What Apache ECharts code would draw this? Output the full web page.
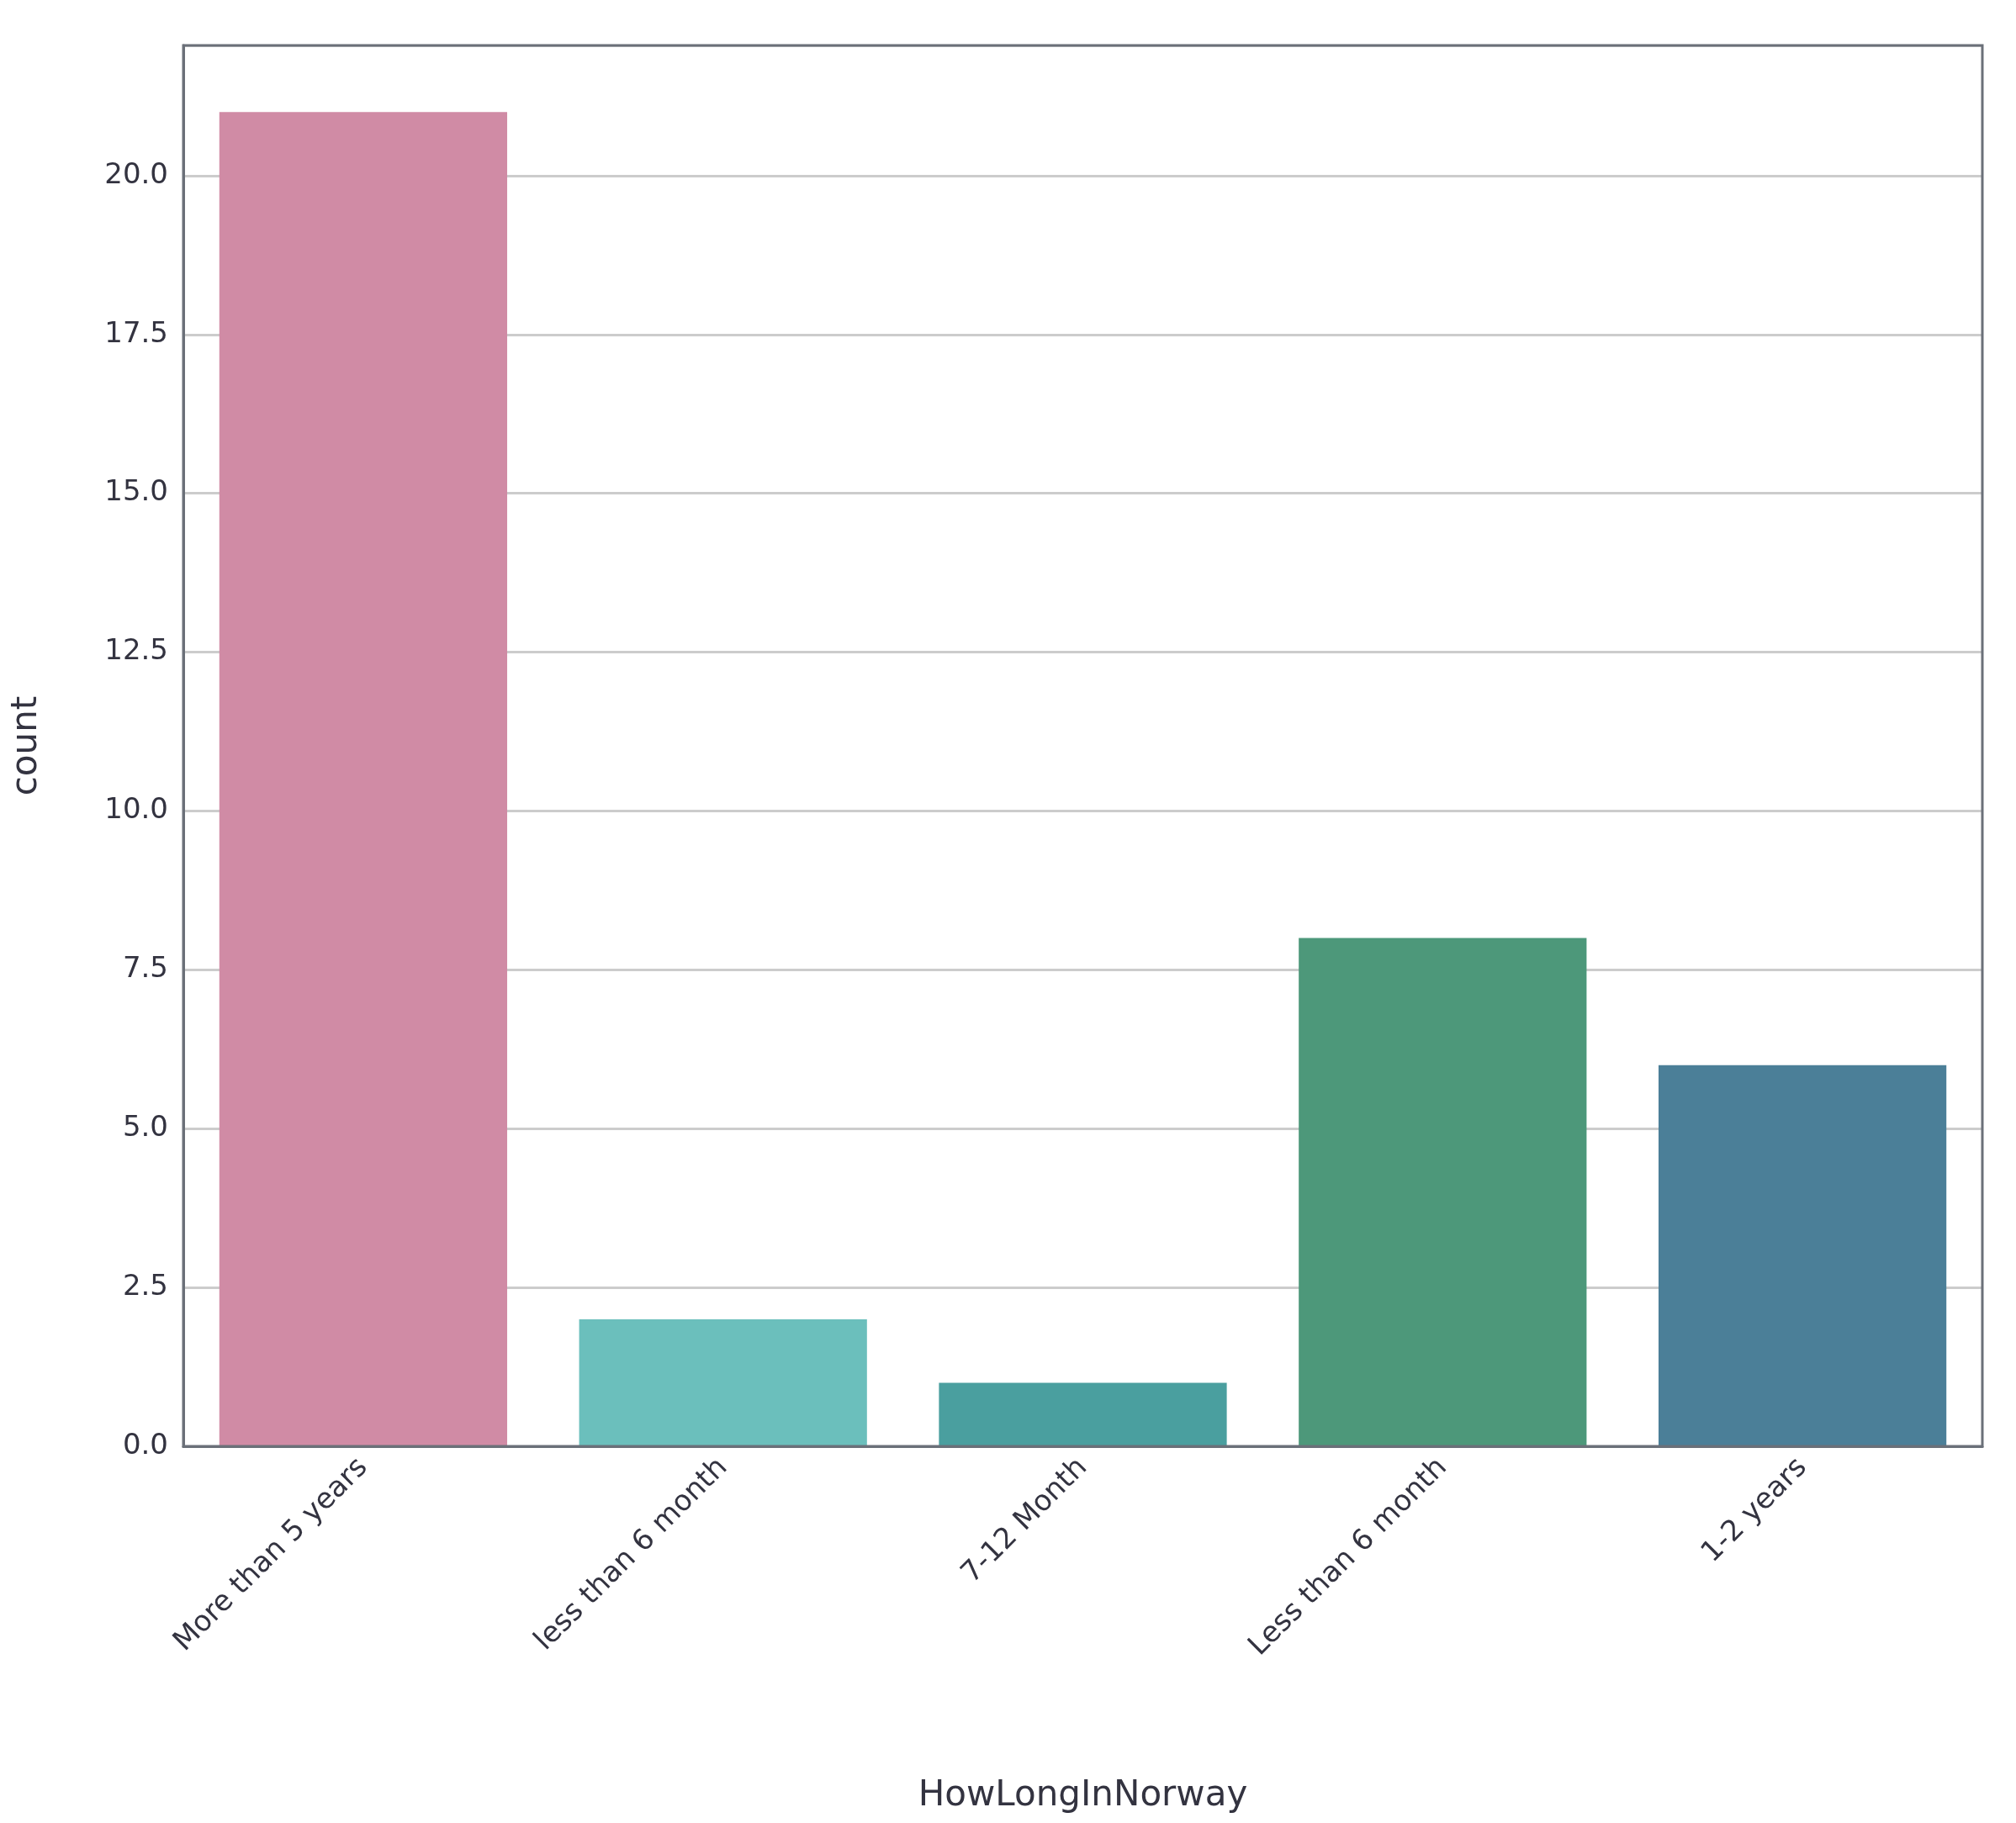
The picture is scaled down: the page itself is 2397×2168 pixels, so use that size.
<!DOCTYPE html>
<html>
<head>
<meta charset="utf-8">
<script src="https://cdn.jsdelivr.net/npm/echarts@6/dist/echarts.min.js"></script>
<style>html,body{margin:0;padding:0;background:#fff}#c{width:2397px;height:2168px}</style>
</head>
<body>
<div id="c"></div>
<script>
// 数据
const categories = ['More than 5 years', 'less than 6 month', '7-12 Month', 'Less than 6 month', '1-2 years']
const counts = [21, 2, 1, 8, 6]
const barColors = ['#D08BA5', '#6BBFBC', '#4A9F9F', '#4D987A', '#4B7F98']

const myChart = echarts.init(document.getElementById('c'))
const font = 'DejaVu Sans'
const option = {
	animation: false,
	grid: { left: 218, right: 40, top: 54, bottom: 448 },
	xAxis: {
		type: 'category',
		data: categories,
		name: 'HowLongInNorway',
		nameLocation: 'middle',
		nameGap: 395,
		nameTextStyle: { fontFamily: font, fontSize: 42, color: '#333340' },
		axisLine: { lineStyle: { color: '#6b7079', width: 3 } },
		axisTick: { show: false },
		axisLabel: { rotate: 45, fontFamily: font, fontSize: 34, color: '#333340', margin: 20 },
		splitLine: { show: false }
	},
	yAxis: {
		type: 'value',
		min: 0,
		max: 22.05,
		interval: 2.5,
		name: 'count',
		nameLocation: 'middle',
		nameGap: 165,
		nameTextStyle: { fontFamily: font, fontSize: 42, color: '#333340' },
		axisLine: { show: true, lineStyle: { color: '#6b7079', width: 3 } },
		axisTick: { show: false },
		axisLabel: {
			fontFamily: font, fontSize: 34, color: '#333340', margin: 18,
			formatter: v => (v > 22 ? '' : v.toFixed(1))
		},
		splitLine: { lineStyle: { color: '#cccccc', width: 3 } }
	},
	series: [{
		type: 'bar',
		data: counts.map((v, i) => ({ value: v, itemStyle: { color: barColors[i] } })),
		barCategoryGap: '20%'
	}],
	graphic: [{
		type: 'rect',
		shape: { x: 218, y: 54, width: 2397 - 218 - 40, height: 2168 - 54 - 448 },
		style: { fill: 'none', stroke: '#6b7079', lineWidth: 3 },
		z: 100
	}]
}
myChart.setOption(option)
</script>
</body>
</html>
